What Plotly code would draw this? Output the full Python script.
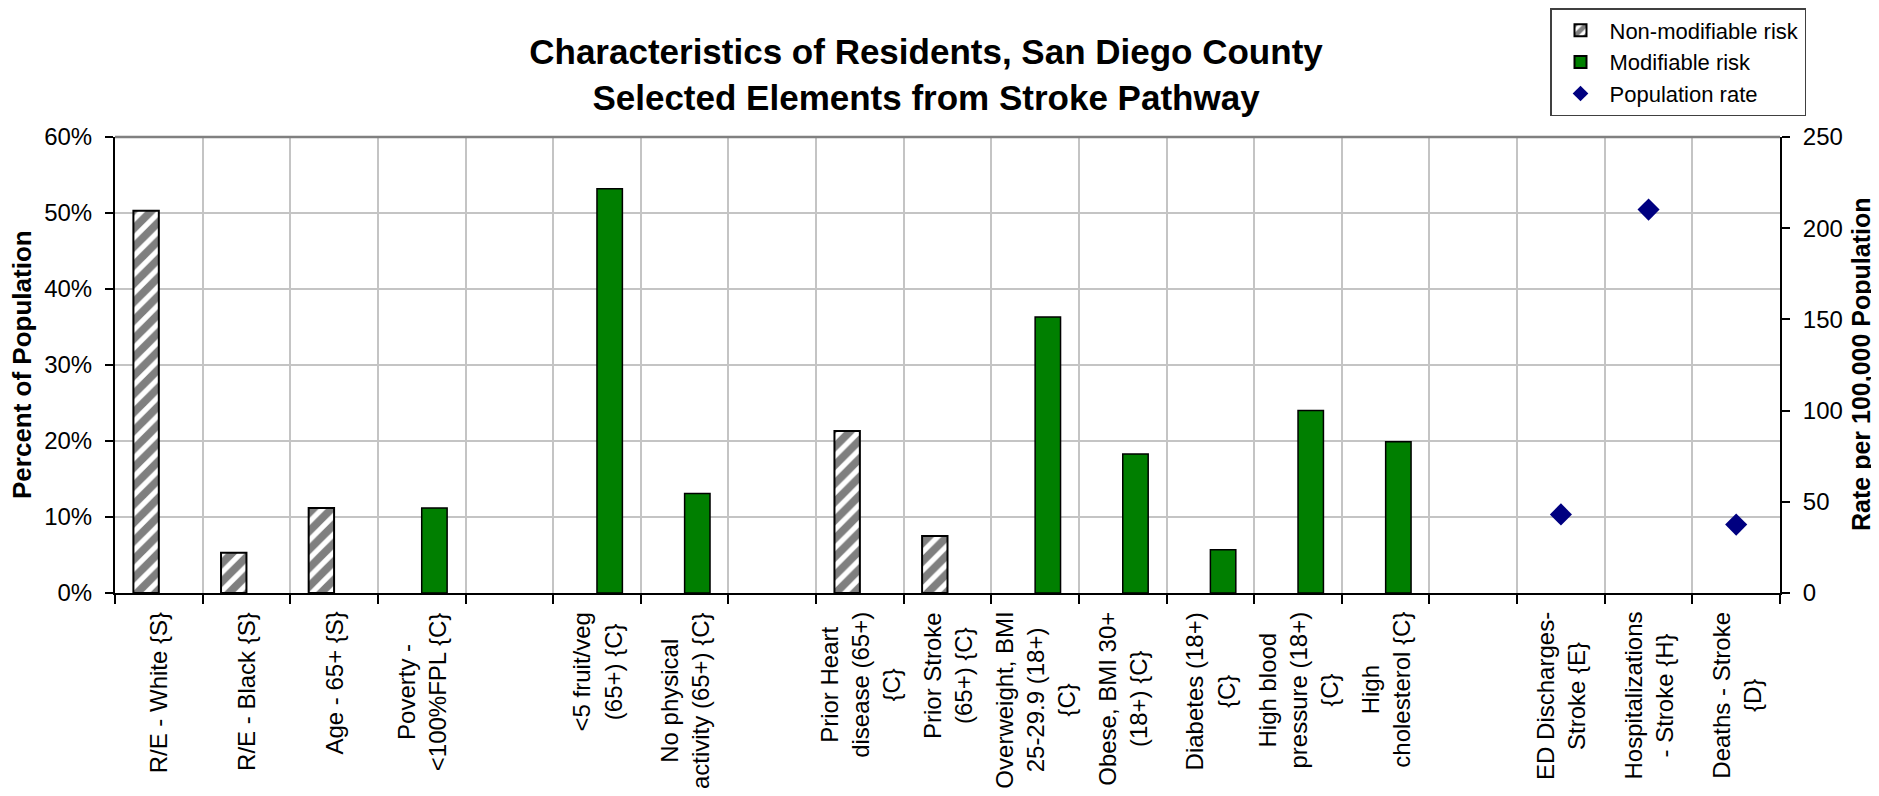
import plotly.graph_objects as go

categories = [
    "R/E - White {S}",
    "R/E - Black {S}",
    "Age - 65+ {S}",
    "Poverty -<br><100%FPL {C}",
    "",
    "<5 fruit/veg<br>(65+) {C}",
    "No physical<br>activity (65+) {C}",
    "",
    "Prior Heart<br>disease (65+)<br>{C}",
    "Prior Stroke<br>(65+) {C}",
    "Overweight, BMI<br>25-29.9 (18+)<br>{C}",
    "Obese, BMI 30+<br>(18+) {C}",
    "Diabetes (18+)<br>{C}",
    "High blood<br>pressure (18+)<br>{C}",
    "High<br>cholesterol {C}",
    "",
    "ED Discharges-<br>Stroke {E}",
    "Hospitalizations<br>- Stroke {H}",
    "Deaths - Stroke<br>{D}",
]

non_modifiable = [50.3, 5.3, 11.2, None, None, None, None, None, 21.3, 7.5,
                  None, None, None, None, None, None, None, None, None]
modifiable = [None, None, None, 11.2, None, 53.2, 13.1, None, None, None,
              36.3, 18.3, 5.7, 24.0, 19.9, None, None, None, None]
population_rate = [None, None, None, None, None, None, None, None, None, None,
                   None, None, None, None, None, None, 43.1, 210.2, 37.5]

y_ticks = [0, 10, 20, 30, 40, 50, 60]
y_ticklabels = ["0%", "10%", "20%", "30%", "40%", "50%", "60%"]
y2_ticks = [0, 50, 100, 150, 200, 250]

x = list(range(len(categories)))
FONT = "Liberation Sans, Arial, sans-serif"

# The page body adds an 8px offset; size the figure so that it fits the window.
OFF = 8
FW, FH = 1879 - OFF, 796 - OFF
# plot-area geometry in page px
PX0, PX1, PY0, PY1 = 115, 1780, 137, 593
L, T = PX0 - OFF, PY0 - OFF
W, H = PX1 - PX0, PY1 - PY0
R, B = FW - L - W, FH - T - H


def px_x(p):
    return (p - PX0) / W


def px_y(p):
    return (PY1 - p) / H


fig = go.Figure()
fig.add_trace(go.Bar(
    x=x, y=non_modifiable, name="Non-modifiable risk",
    marker=dict(color="white", line=dict(color="black", width=2),
                pattern=dict(shape="/", fgcolor="black", bgcolor="white",
                             size=13, solidity=0.6)),
))
fig.add_trace(go.Bar(
    x=x, y=modifiable, name="Modifiable risk",
    marker=dict(color="#007F00", line=dict(color="black", width=1.5)),
))
fig.add_trace(go.Scatter(
    x=x, y=population_rate, name="Population rate", mode="markers",
    yaxis="y2",
    marker=dict(symbol="diamond", size=17, color="#000080"),
))

annotations = []
for i, lab in enumerate(categories):
    if lab:
        annotations.append(dict(
            x=i, xref="x", y=px_y(PY1 + 17), yref="paper",
            xanchor="center", yanchor="top", textangle=-90, align="center",
            text=lab, showarrow=False,
            font=dict(family=FONT, size=24, color="black"),
        ))
annotations.append(dict(
    x=px_x(22), xref="paper", y=0.5, yref="paper",
    xanchor="center", yanchor="middle", textangle=-90,
    text="<b>Percent of Population</b>", showarrow=False,
    font=dict(family=FONT, size=26, color="black"),
))
annotations.append(dict(
    x=px_x(1861), xref="paper", y=0.5, yref="paper",
    xanchor="center", yanchor="middle", textangle=-90,
    text="<b>Rate per 100,000 Population</b>", showarrow=False,
    font=dict(family=FONT, size=25, color="black"),
))

fig.update_layout(
    width=FW, height=FH,
    margin=dict(l=L, r=R, t=T, b=B, pad=0, autoexpand=False),
    paper_bgcolor="white", plot_bgcolor="white",
    font=dict(family=FONT, color="black", size=24),
    barmode="group", bargap=0.42, bargroupgap=0,
    title=dict(
        text="<b>Characteristics of Residents, San Diego County<br>Selected Elements from Stroke Pathway</b>",
        x=(926 - OFF) / FW, xanchor="center", y=1 - 56 / FH, yanchor="middle",
        font=dict(family=FONT, size=35, color="black"),
    ),
    showlegend=True,
    legend=dict(
        xref="container", yref="container",
        x=(1550 - OFF) / FW, xanchor="left",
        y=1.0, yanchor="top",
        bgcolor="white", bordercolor="#404040", borderwidth=1.5,
        font=dict(family=FONT, size=22, color="black"),
        traceorder="normal", itemsizing="constant", itemwidth=48,
    ),
    xaxis=dict(
        range=[-0.5, len(categories) - 0.5],
        tickmode="array", tickvals=x, showticklabels=False,
        ticks="", showgrid=False,
        showline=True, linecolor="black", linewidth=2,
        minor=dict(tickmode="linear", tick0=-0.5, dtick=1,
                   ticks="outside", ticklen=9, tickwidth=2, tickcolor="black",
                   showgrid=True, gridcolor="#C4C4C4", gridwidth=1.5),
        automargin=False, zeroline=False,
    ),
    yaxis=dict(
        range=[0, 60], tickmode="array", tickvals=y_ticks, ticktext=y_ticklabels,
        ticks="outside", ticklen=8, tickwidth=2, tickcolor="black",
        tickfont=dict(size=24), ticklabelstandoff=8,
        showline=True, linecolor="black", linewidth=2,
        showgrid=True, gridcolor="#C4C4C4", gridwidth=1.5,
        zeroline=False, automargin=False,
    ),
    yaxis2=dict(
        range=[0, 250], tickmode="array", tickvals=y2_ticks,
        overlaying="y", side="right",
        ticks="outside", ticklen=8, tickwidth=2, tickcolor="black",
        tickfont=dict(size=24), ticklabelstandoff=8,
        showline=True, linecolor="black", linewidth=2,
        showgrid=False, zeroline=False, automargin=False,
    ),
    annotations=annotations,
    shapes=[dict(type="line", xref="paper", yref="paper", x0=0, x1=1, y0=1, y1=1,
                 line=dict(color="#808080", width=2.5))],
)

fig.write_html("out.html")
